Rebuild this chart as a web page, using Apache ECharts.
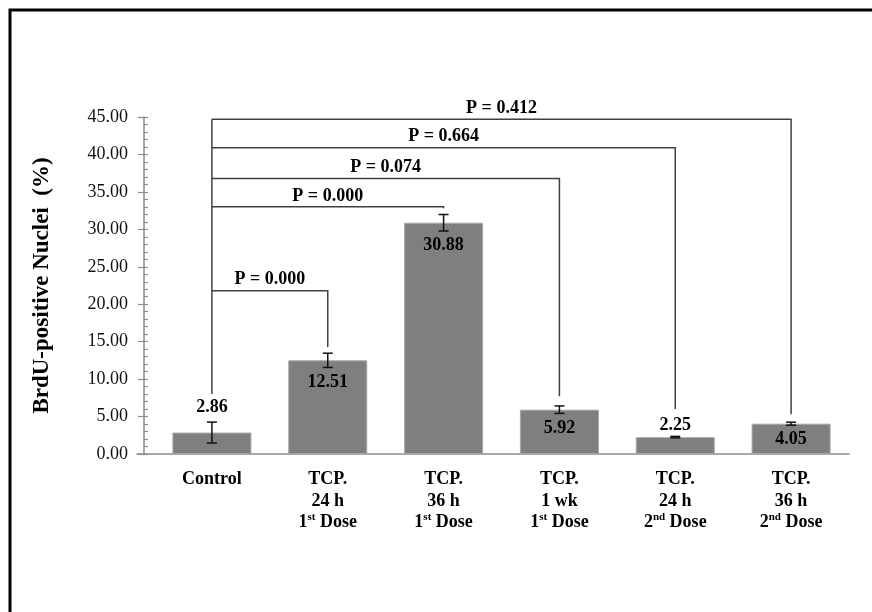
<!DOCTYPE html>
<html>
<head>
<meta charset="utf-8">
<script src="https://cdn.jsdelivr.net/npm/echarts@6/dist/echarts.min.js"></script>
<style>
  html, body { margin: 0; padding: 0; background: #fff; }
  #chart { width: 872px; height: 612px; }
</style>
</head>
<body>
<div id="chart"></div>
<script>
// Group names (second-line ordinals are drawn as superscripts)
const categories = [
  'Control',
  'TCP.\n24 h\n1st Dose',
  'TCP.\n36 h\n1st Dose',
  'TCP.\n1 wk\n1st Dose',
  'TCP.\n24 h\n2nd Dose',
  'TCP.\n36 h\n2nd Dose'
];
// Mean BrdU-positive nuclei (%) and error-bar half lengths
const meanValues = [2.86, 12.51, 30.88, 5.92, 2.25, 4.05];
const errorValues = [1.4, 0.95, 1.1, 0.5, 0.1, 0.2];

// Comparisons against Control: p value, height of the bracket, and where its drop ends
const pValues = ['0.000', '0.000', '0.074', '0.664', '0.412'];
const bracketHeights = [21.8, 33.0, 36.8, 40.9, 44.7];
const bracketEnds = [14.3, 32.8, 7.7, 6.0, 5.3];
const controlStemBase = 8.0;

// Y axis scale
const yMin = 0, yMax = 45, yStep = 5;

// Where each value label sits relative to its bar
const labelPlacement = [
  { position: 'top', distance: 16 },
  { position: 'insideTop', distance: 13 },
  { position: 'insideTop', distance: 14 },
  { position: 'insideTop', distance: 10 },
  { position: 'top', distance: 3 },
  { position: 'insideTop', distance: 7 }
];

const serif = "'Liberation Serif', 'Times New Roman', serif";
const axisGray = '#8c8c8c';

const chart = echarts.init(document.getElementById('chart'), null, { renderer: 'canvas' });

const barData = meanValues.map((v, i) => ({
  value: v,
  label: {
    show: true,
    position: labelPlacement[i].position,
    distance: labelPlacement[i].distance,
    formatter: () => v.toFixed(2),
    fontFamily: serif,
    fontWeight: 'bold',
    fontSize: 18,
    color: '#000'
  }
}));

const option = {
  backgroundColor: '#fff',
  animation: false,
  graphic: [{
    type: 'rect',
    shape: { x: 10, y: 10, width: 900, height: 700 },
    style: { fill: 'none', stroke: '#000', lineWidth: 3 },
    silent: true
  }],
  grid: [
    { left: 154, right: 23, top: 117, bottom: 158 },
    { left: 137, right: 23, top: 117, bottom: 158 }
  ],
  xAxis: [{
    type: 'category',
    gridIndex: 0,
    data: categories,
    axisLine: { show: false },
    axisTick: { show: false },
    axisLabel: {
      interval: 0,
      margin: 15,
      fontFamily: serif,
      fontWeight: 'bold',
      fontSize: 18,
      lineHeight: 21.5,
      color: '#000',
      formatter: (val) => val.replace(/(\d)(st|nd|rd|th)\b/g, '$1{s|$2}'),
      rich: {
        s: {
          fontFamily: serif,
          fontWeight: 'bold',
          fontSize: 11,
          verticalAlign: 'top',
          color: '#000',
          padding: [0, 0, 8, 0]
        }
      }
    }
  }, {
    type: 'value',
    gridIndex: 1,
    min: 0, max: 1,
    axisLine: { show: true, lineStyle: { color: axisGray, width: 1.5 } },
    axisTick: { show: false },
    axisLabel: { show: false },
    splitLine: { show: false }
  }],
  yAxis: [{
    type: 'value',
    gridIndex: 0,
    min: yMin, max: yMax, interval: yStep,
    offset: 10,
    axisLine: { show: true, lineStyle: { color: axisGray, width: 1.5 } },
    axisTick: { show: true, inside: false, length: 6, lineStyle: { color: axisGray, width: 1.2 } },
    axisLabel: {
      margin: 16,
      fontFamily: serif,
      fontSize: 18,
      color: '#111',
      formatter: (v) => v.toFixed(2)
    },
    splitLine: { show: false },
    name: 'BrdU-positive Nuclei  (%)',
    nameLocation: 'middle',
    nameGap: 90,
    nameTextStyle: { fontFamily: serif, fontWeight: 'bold', fontSize: 23, color: '#000' }
  }, {
    type: 'value',
    gridIndex: 0,
    position: 'left',
    min: yMin, max: yMax, interval: yStep,
    offset: 10,
    axisLine: { show: false },
    axisTick: { show: true, inside: true, length: 4, lineStyle: { color: axisGray, width: 1.2 } },
    minorTick: { show: true, splitNumber: 5, length: 4, lineStyle: { color: axisGray, width: 1.2 } },
    axisLabel: { show: false },
    splitLine: { show: false }
  }, {
    type: 'value',
    gridIndex: 1,
    show: false,
    min: 0, max: 1
  }],
  series: [{
    type: 'bar',
    xAxisIndex: 0,
    yAxisIndex: 0,
    data: barData,
    barWidth: 79,
    itemStyle: { color: '#7f7f7f', borderColor: '#a6a6a6', borderWidth: 1 },
    z: 2
  }, {
    // error bars
    type: 'custom',
    xAxisIndex: 0,
    yAxisIndex: 0,
    data: meanValues.map((v, i) => [i, v, errorValues[i]]),
    clip: false,
    z: 4,
    renderItem: (params, api) => {
      const i = api.value(0), v = api.value(1), e = api.value(2);
      const hi = api.coord([i, v + e]);
      const lo = api.coord([i, v - e]);
      const cap = 5;
      const st = { stroke: '#111', lineWidth: 1.5, fill: 'none' };
      return {
        type: 'group',
        children: [
          { type: 'line', shape: { x1: hi[0], y1: hi[1], x2: lo[0], y2: lo[1] }, style: st },
          { type: 'line', shape: { x1: hi[0] - cap, y1: hi[1], x2: hi[0] + cap, y2: hi[1] }, style: st },
          { type: 'line', shape: { x1: lo[0] - cap, y1: lo[1], x2: lo[0] + cap, y2: lo[1] }, style: st }
        ]
      };
    }
  }, {
    // significance brackets against Control
    type: 'custom',
    xAxisIndex: 0,
    yAxisIndex: 0,
    data: pValues.map((p, k) => [k + 1, bracketHeights[k], bracketEnds[k]]),
    clip: false,
    z: 3,
    renderItem: (params, api) => {
      const target = api.value(0), h = api.value(1), end = api.value(2);
      const start = api.coord([0, h]);
      const corner = api.coord([target, h]);
      const drop = api.coord([target, end]);
      const st = { stroke: '#404040', lineWidth: 1.5, fill: 'none' };
      const children = [
        { type: 'polyline', shape: { points: [start, corner, drop] }, style: st },
        {
          type: 'text',
          style: {
            x: (start[0] + corner[0]) / 2,
            y: start[1] - 2,
            text: 'P = ' + pValues[params.dataIndex],
            align: 'center',
            verticalAlign: 'bottom',
            fontFamily: serif,
            fontWeight: 'bold',
            fontSize: 18,
            fill: '#000'
          }
        }
      ];
      if (params.dataIndex === 0) {
        const top = api.coord([0, Math.max.apply(null, bracketHeights)]);
        const base = api.coord([0, controlStemBase]);
        children.push({ type: 'line', shape: { x1: top[0], y1: top[1], x2: base[0], y2: base[1] }, style: st });
      }
      return { type: 'group', children };
    }
  }]
};

chart.setOption(option);
</script>
</body>
</html>
